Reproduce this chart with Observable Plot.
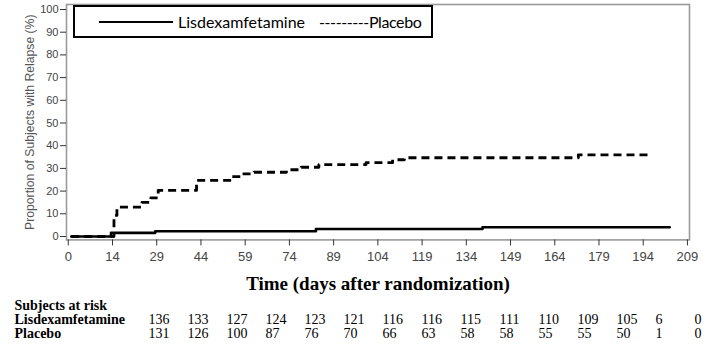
<!DOCTYPE html>
<html>
<head>
<meta charset="utf-8">
<script src="https://cdn.jsdelivr.net/npm/d3@7"></script>
<script src="https://cdn.jsdelivr.net/npm/@observablehq/plot@0.6"></script>
<style>
  html, body { margin: 0; padding: 0; background: #fff; }
  #wrap { position: relative; width: 724px; height: 355px; overflow: hidden; }
  #wrap svg { display: block; }
  #legend {
    position: absolute; left: 73px; top: 5px; width: 356px; height: 29px;
    border: 2px solid #000; background: #fff; box-sizing: content-box;
    font-family: Lato, "Noto Sans", sans-serif; font-size: 16px; color: #000;
  }
  #legend .ln { position: absolute; left: 24px; top: 14px; width: 74px; height: 0; border-top: 2.5px solid #000; }
  #legend .t1 { position: absolute; left: 103px; top: 5px; line-height: 20px; white-space: nowrap; }
  #legend .t2 { position: absolute; left: 244px; top: 5px; line-height: 20px; white-space: nowrap; letter-spacing: -0.4px; }
</style>
</head>
<body>
<div id="wrap">
  <div id="chart"></div>
  <div id="table"></div>
  <div id="legend"><div class="ln"></div><span class="t1">Lisdexamfetamine</span><span class="t2">---------Placebo</span></div>
</div>
<script>
// ---- Data ----
const lisdexDays = [0, 13.5, 28.5, 83, 139.5, 203];
const lisdexPct  = [0, 1.6, 2.3, 3.3, 4.1, 4.1];

const placeboDays = [0, 14.5, 15.5, 24, 27, 29.5, 42.5, 54.5, 58, 62, 73, 78, 84, 100, 109, 113, 172, 196.5];
const placeboPct  = [0, 9.3, 12.9, 15.0, 17.0, 20.3, 24.7, 26.4, 27.6, 28.3, 29.4, 30.5, 31.7, 32.5, 33.8, 34.7, 36.0, 36.0];

const xTickPos    = [-1, 14, 29, 44, 59, 74, 89, 104, 119, 134, 149, 164, 179, 194, 209];
const xTickLabels = ["0", "14", "29", "44", "59", "74", "89", "104", "119", "134", "149", "164", "179", "194", "209"];
const yTicks = [0, 10, 20, 30, 40, 50, 60, 70, 80, 90, 100];

const riskRows = ["Lisdexamfetamine", "Placebo"];
const riskLisdex  = [136, 133, 127, 124, 123, 121, 116, 116, 115, 111, 110, 109, 105, 6, 0];
const riskPlacebo = [131, 126, 100, 87, 76, 70, 66, 63, 58, 58, 55, 55, 50, 1, 0];

const xTitle = "Time (days after randomization)";
const yTitle = "Proportion of Subjects with Relapse (%)";
const riskTitle = "Subjects at risk";

// ---- Build tables ----
const lisdex = lisdexDays.map((d, i) => ({day: d, pct: lisdexPct[i]}));
const placebo = placeboDays.map((d, i) => ({day: d, pct: placeboPct[i]}));
const tickLabelOf = new Map(xTickPos.map((p, i) => [p, xTickLabels[i]]));

const sans = "'Liberation Sans', Arial, sans-serif";
const serif = "'Liberation Serif', 'Times New Roman', serif";

const chart = Plot.plot({
  width: 724,
  height: 292,
  marginLeft: 66,
  marginRight: 35,
  marginTop: 4,
  marginBottom: 52.6,
  style: {fontFamily: sans, background: "#fff", overflow: "visible"},
  x: {domain: [-1.6, 209.7]},
  y: {domain: [-1.5, 102.2]},
  marks: [
    Plot.frame({stroke: "#9a9a9a", strokeWidth: 1.6}),
    Plot.axisX({ticks: xTickPos, tickFormat: d => tickLabelOf.get(d), tickSize: 6, tickPadding: 6,
      fontSize: 13, color: "#444", stroke: "#333", label: null}),
    Plot.axisY({ticks: yTicks, tickSize: 6, tickPadding: 2, fontSize: 11, color: "#444", stroke: "#333", label: null}),
    Plot.line(lisdex, {x: "day", y: "pct", curve: "step-after", stroke: "#000", strokeWidth: 2.6}),
    Plot.line(placebo, {x: "day", y: "pct", curve: "step-after", stroke: "#000", strokeWidth: 2.8,
      strokeDasharray: "8,5", strokeLinecap: "butt"}),
    Plot.text([xTitle], {frameAnchor: "bottom", dy: 50, text: d => d, fontFamily: serif,
      fontWeight: "bold", fontSize: 19, fill: "#000"}),
    Plot.text([yTitle], {frameAnchor: "left", dx: -36, rotate: -90, textAnchor: "middle", text: d => d,
      fontSize: 12.2, fill: "#555"})
  ]
});
document.getElementById("chart").appendChild(chart);

const riskCells = [];
xTickLabels.forEach((t, i) => {
  riskCells.push({col: t, row: "Lisdexamfetamine", n: riskLisdex[i]});
  riskCells.push({col: t, row: "Placebo", n: riskPlacebo[i]});
});
const rowsAll = [riskTitle, ...riskRows];

const table = Plot.plot({
  width: 724,
  height: 63,
  marginLeft: 147,
  marginRight: 30,
  marginTop: 12,
  marginBottom: 22,
  style: {fontFamily: serif, background: "#fff", overflow: "visible"},
  x: {type: "point", domain: xTickLabels, padding: 0, axis: null},
  y: {type: "point", domain: rowsAll, padding: 0, axis: null},
  marks: [
    Plot.text(riskCells, {x: "col", y: "row", text: d => String(d.n), textAnchor: "start",
      fontSize: 14, fill: "#000"}),
    Plot.text(rowsAll, {y: d => d, text: d => d, frameAnchor: "left", dx: -133, textAnchor: "start",
      fontSize: 14, fontWeight: "bold", fill: "#000"})
  ]
});
document.getElementById("table").appendChild(table);
</script>
</body>
</html>
